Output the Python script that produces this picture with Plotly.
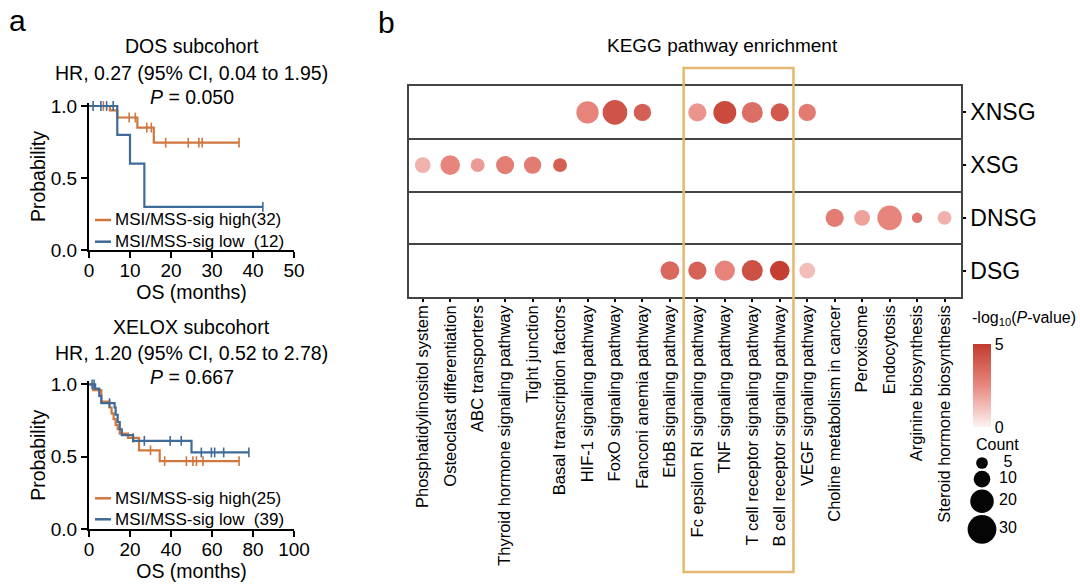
import plotly.graph_objects as go

W, H = 1080, 584
FONT = "Arial, 'Liberation Sans', sans-serif"
ORANGE = "#d0773d"
BLUE = "#3f6b98"
GOLD = "#e2b96f"

# ---------------- panel a data (Kaplan-Meier) ----------------
dos_high_t = [0, 5.1, 6.9, 11.8, 15.8, 36.6]
dos_high_s = [1.0, 0.97, 0.92, 0.85, 0.745, 0.745]
dos_high_cens = [3.5, 9.8, 11.3, 14.1, 15.2, 18.7, 24.2, 26.8, 27.6, 36.6]
dos_low_t = [0, 6.9, 10.0, 13.5, 42.4]
dos_low_s = [1.0, 0.80, 0.60, 0.30, 0.30]
dos_low_cens = [1.0, 2.9, 4.3, 5.9, 42.4]

xel_high_t = [0, 2, 6, 10, 11, 12, 13, 14, 15, 19, 24.4, 34.5, 73.2]
xel_high_s = [1.0, 0.96, 0.88, 0.84, 0.80, 0.76, 0.72, 0.69, 0.66, 0.63, 0.545, 0.47, 0.47]
xel_high_cens = [21.5, 30.0, 36.9, 47.5, 50.7, 52.4, 55.6, 73.2]
xel_low_t = [0, 3, 5, 6, 12.5, 13, 14, 15, 16, 21.5, 50, 78]
xel_low_s = [1.0, 0.97, 0.92, 0.87, 0.84, 0.79, 0.74, 0.69, 0.65, 0.61, 0.53, 0.53]
xel_low_cens = [1.5, 2.5, 10.0, 27.0, 39.6, 45.0, 54.8, 59.7, 61.3, 65.7, 78.0]

dos_labels = ["MSI/MSS-sig high(32)", "MSI/MSS-sig low\u00a0 (12)"]
xel_labels = ["MSI/MSS-sig high(25)", "MSI/MSS-sig low\u00a0 (39)"]

# ---------------- panel b data (KEGG dot plot) ----------------
pathways = [
    "Phosphatidylinositol system", "Osteoclast differentiation", "ABC transporters",
    "Thyroid hormone signaling pathway", "Tight junction", "Basal transcription factors",
    "HIF-1 signaling pathway", "FoxO signaling pathway", "Fanconi anemia pathway",
    "ErbB signaling pathway", "Fc epsilon RI signaling pathway", "TNF signaling pathway",
    "T cell receptor signaling pathway", "B cell receptor signaling pathway",
    "VEGF signaling pathway", "Choline metabolism in cancer", "Peroxisome", "Endocytosis",
    "Arginine biosynthesis", "Steroid hormone biosynthesis",
]
groups = ["XNSG", "XSG", "DNSG", "DSG"]  # top to bottom

dot_group = (["XNSG"] * 8 + ["XSG"] * 6 + ["DNSG"] * 5 + ["DSG"] * 6)
dot_pathway = [
    "HIF-1 signaling pathway", "FoxO signaling pathway", "Fanconi anemia pathway",
    "Fc epsilon RI signaling pathway", "TNF signaling pathway",
    "T cell receptor signaling pathway", "B cell receptor signaling pathway",
    "VEGF signaling pathway",
    "Phosphatidylinositol system", "Osteoclast differentiation", "ABC transporters",
    "Thyroid hormone signaling pathway", "Tight junction", "Basal transcription factors",
    "Choline metabolism in cancer", "Peroxisome", "Endocytosis", "Arginine biosynthesis",
    "Steroid hormone biosynthesis",
    "ErbB signaling pathway", "Fc epsilon RI signaling pathway", "TNF signaling pathway",
    "T cell receptor signaling pathway", "B cell receptor signaling pathway",
    "VEGF signaling pathway",
]
dot_count = [18, 22, 11, 12, 19, 16, 12, 11,
             9, 14, 7, 12, 11, 7,
             12, 9, 22, 4, 7,
             13, 12, 15, 16, 14, 9]
dot_logp = [2.6, 4.2, 3.8, 2.2, 4.5, 3.3, 4.0, 2.9,
            1.5, 2.55, 2.05, 2.8, 2.9, 3.8,
            2.85, 1.9, 2.55, 3.1, 1.55,
            3.5, 3.75, 2.6, 4.3, 4.9, 1.25]

legend_counts = [5, 10, 20, 30]
highlight = ["Fc epsilon RI signaling pathway", "B cell receptor signaling pathway"]

SIZE_K = 5.25  # marker diameter (px) per sqrt(count)
COLORSCALE = [[0, "#fdf3f2"], [0.5, "#e8877f"], [1, "#c23b2e"]]


def px_x(p):
    return p / W


def px_y(p):
    return 1 - p / H


def step_at(ts, ss, t):
    val = ss[0]
    for ti, si in zip(ts, ss):
        if ti <= t:
            val = si
    return val


fig = go.Figure()


def add_km(t, s, cens, color, name, xa, ya):
    fig.add_trace(go.Scatter(
        x=t, y=s, mode="lines", line=dict(shape="hv", color=color, width=2.2),
        name=name, xaxis=xa, yaxis=ya, showlegend=False, hoverinfo="skip"))
    fig.add_trace(go.Scatter(
        x=cens, y=[step_at(t, s, c) for c in cens], mode="markers",
        marker=dict(symbol="line-ns-open", size=7, color=color,
                    line=dict(color=color, width=1.6)),
        xaxis=xa, yaxis=ya, showlegend=False, cliponaxis=False, hoverinfo="skip"))


add_km(dos_high_t, dos_high_s, dos_high_cens, ORANGE, dos_labels[0], "x", "y")
add_km(dos_low_t, dos_low_s, dos_low_cens, BLUE, dos_labels[1], "x", "y")
add_km(xel_high_t, xel_high_s, xel_high_cens, ORANGE, xel_labels[0], "x2", "y2")
add_km(xel_low_t, xel_low_s, xel_low_cens, BLUE, xel_labels[1], "x2", "y2")

# KEGG dots
nG = len(groups)
fig.add_trace(go.Scatter(
    x=[pathways.index(p) for p in dot_pathway],
    y=[nG - 1 - groups.index(g) for g in dot_group],
    mode="markers", xaxis="x3", yaxis="y3", showlegend=False,
    marker=dict(
        size=[SIZE_K * c ** 0.5 for c in dot_count],
        color=dot_logp, cmin=0, cmax=5, colorscale=COLORSCALE, opacity=1,
        line=dict(width=0),
        showscale=True,
        colorbar=dict(
            x=px_x(973), xanchor="left", xpad=0, y=px_y(385.5), yanchor="middle", ypad=0,
            len=83, lenmode="pixels", thickness=18, thicknessmode="pixels",
            tickvals=[0, 5], ticks="", outlinewidth=0,
            tickfont=dict(size=16, color="black", family=FONT),
        ),
    ),
))

# Count size legend
cnt_d = [SIZE_K * c ** 0.5 for c in legend_counts]
cnt_y = [463.0]
for i in range(1, len(cnt_d)):
    cnt_y.append(cnt_y[-1] + (cnt_d[i - 1] + cnt_d[i]) / 2 + 2.0)
fig.add_trace(go.Scatter(
    x=[982] * len(legend_counts), y=cnt_y, mode="markers", xaxis="x4", yaxis="y4",
    marker=dict(size=cnt_d, color="#050505", opacity=1, line=dict(width=0)),
    showlegend=False, hoverinfo="skip"))
fig.add_trace(go.Scatter(
    x=[1008] * len(legend_counts), y=cnt_y, mode="text", xaxis="x4", yaxis="y4",
    text=[str(c) for c in legend_counts], textposition="middle center",
    textfont=dict(size=16, color="black", family=FONT), showlegend=False, hoverinfo="skip"))

km_axis = dict(showline=True, linewidth=2, linecolor="black", ticks="outside", ticklen=6,
               tickwidth=2, tickcolor="black", showgrid=False, zeroline=False,
               tickfont=dict(size=19, color="black", family=FONT))

fig.update_layout(
    width=W, height=H, template="none",
    margin=dict(l=0, r=0, t=0, b=0),
    paper_bgcolor="white", plot_bgcolor="rgba(0,0,0,0)",
    font=dict(family=FONT, color="black"),
    showlegend=False,
    xaxis=dict(km_axis, domain=[px_x(89), px_x(294)], range=[0, 50], dtick=10, tick0=0,
               anchor="y", ticklabelstandoff=-4,
               title=dict(text="OS (months)", font=dict(size=19.5), standoff=0)),
    yaxis=dict(km_axis, domain=[px_y(250), px_y(250 - 144 * 1.02)], range=[0, 1.02],
               tickvals=[0, 0.5, 1.0], tickformat=".1f", anchor="x",
               title=dict(text="Probability", font=dict(size=19.5), standoff=0)),
    xaxis2=dict(km_axis, domain=[px_x(89), px_x(294)], range=[0, 100], dtick=20, tick0=0,
                anchor="y2", ticklabelstandoff=-4,
                title=dict(text="OS (months)", font=dict(size=19.5), standoff=0)),
    yaxis2=dict(km_axis, domain=[px_y(529.3), px_y(529.3 - 145 * 1.02)], range=[0, 1.02],
                tickvals=[0, 0.5, 1.0], tickformat=".1f", anchor="x2",
                title=dict(text="Probability", font=dict(size=19.5), standoff=0)),
    xaxis3=dict(domain=[px_x(409), px_x(961)], range=[-0.5, 19.6], anchor="y3",
                tickvals=list(range(len(pathways))), ticktext=pathways, tickangle=-90,
                ticks="outside", ticklen=3, tickwidth=1.5, tickcolor="black",
                ticklabelstandoff=-3,
                showline=True, mirror=True, linewidth=1.5, linecolor="#444",
                showgrid=False, zeroline=False,
                tickfont=dict(size=16.5, color="black", family=FONT)),
    yaxis3=dict(domain=[px_y(297), px_y(86)], range=[-0.5, nG - 0.5], anchor="x3",
                side="right", tickvals=list(range(nG)), ticktext=groups[::-1],
                ticks="outside", ticklen=3, tickwidth=1.5, tickcolor="black",
                showline=True, mirror=True, linewidth=1.5, linecolor="#444",
                showgrid=False, zeroline=False,
                minor=dict(tickmode="array", tickvals=[i + 0.5 for i in range(nG - 1)],
                           showgrid=True, gridcolor="#444", gridwidth=1.5, ticks=""),
                tickfont=dict(size=23, color="black", family=FONT)),
    xaxis4=dict(domain=[px_x(965), px_x(1030)], range=[965, 1030], anchor="y4",
                visible=False, fixedrange=True),
    yaxis4=dict(domain=[px_y(548), px_y(450)], range=[548, 450], anchor="x4",
                visible=False, fixedrange=True),
)

# highlight box around immune pathways
fig.add_shape(type="rect", xref="x3", yref="paper",
              x0=pathways.index(highlight[0]) - 0.5, x1=pathways.index(highlight[1]) + 0.5,
              y0=px_y(572), y1=px_y(68), line=dict(color=GOLD, width=2.5), layer="above")


def ann(text, x, y, size, xanchor="center", **kw):
    fig.add_annotation(text=text, x=px_x(x), y=px_y(y), xref="paper", yref="paper",
                       showarrow=False, xanchor=xanchor, yanchor="middle",
                       font=dict(size=size, color="black", family=FONT), **kw)


def legend_entry(color, label, y):
    fig.add_shape(type="line", xref="paper", yref="paper",
                  x0=px_x(95), x1=px_x(111), y0=px_y(y), y1=px_y(y),
                  line=dict(color=color, width=2.5))
    ann(label, 112.5, y, 17, xanchor="left")


legend_entry(ORANGE, dos_labels[0], 220)
legend_entry(BLUE, dos_labels[1], 241.7)
legend_entry(ORANGE, xel_labels[0], 498.3)
legend_entry(BLUE, xel_labels[1], 519.3)

ann("a", 7, 20, 30, xanchor="left")
ann("b", 376, 22, 30, xanchor="left")
ann("DOS subcohort", 191.5, 46, 19.5)
ann("HR, 0.27 (95% CI, 0.04 to 1.95)", 191.5, 73, 19.5)
ann("<i>P</i> = 0.050", 191.5, 97, 19.5)
ann("XELOX subcohort", 191.5, 327, 19.5)
ann("HR, 1.20 (95% CI, 0.52 to 2.78)", 191.5, 353, 19.5)
ann("<i>P</i> = 0.667", 191.5, 377, 19.5)
ann("KEGG pathway enrichment", 722, 46, 19)
ann("-log<sub>10</sub>(<i>P</i>-value)", 1024, 318, 16)
ann("Count", 997, 444, 16)

fig.write_html(
    "out.html",
    config={"displayModeBar": False},
    post_script="document.body.style.margin='0';document.body.style.padding='0';"
                "document.body.style.overflow='hidden';",
)
